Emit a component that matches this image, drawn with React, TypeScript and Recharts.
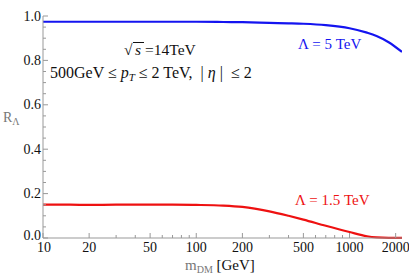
import React from 'react';
import { LineChart, Line, XAxis, YAxis } from 'recharts';

const masses = [10, 15, 20, 30, 50, 70, 100, 150, 200, 300, 400, 500, 700, 1000, 1300, 1500, 1800, 2200];
const rLambda5 = [0.974, 0.974, 0.974, 0.974, 0.974, 0.974, 0.974, 0.973, 0.972, 0.969, 0.967, 0.965, 0.959, 0.945, 0.925, 0.91, 0.882, 0.838];
const rLambda15 = [0.15, 0.15, 0.149, 0.15, 0.15, 0.15, 0.149, 0.146, 0.14, 0.12, 0.1, 0.083, 0.055, 0.027, 0.008, 0.003, 0.001, 0.001];

const xMajor = [10, 20, 50, 100, 200, 500, 1000, 2000];
const xMinor = [30, 40, 60, 70, 80, 90, 300, 400, 600, 700, 800, 900];
const yMajor = [0, 0.2, 0.4, 0.6, 0.8, 1.0];
const yMinor = [0.05, 0.1, 0.15, 0.25, 0.3, 0.35, 0.45, 0.5, 0.55, 0.65, 0.7, 0.75, 0.85, 0.9, 0.95];

const data = masses.map((m, i) => ({ m, a: rLambda5[i], b: rLambda15[i] }));

const FONT = "Liberation Serif, Times New Roman, serif";
const FRAME = '#999';
const W = 409;
const H = 276;
const M = { top: 16, right: 7, bottom: 0, left: 0 };
const XH = 38;
const YW = 43;
const PLOT_TOP = M.top;
const PLOT_BOTTOM = H - M.bottom - XH;
const PLOT_LEFT = M.left + YW;
const PLOT_RIGHT = W - M.right;

const makeXTick = (side: 'bottom' | 'top') => (props: any) => {
  const { x, payload } = props;
  const v = payload.value;
  const major = xMajor.includes(v);
  const len = major ? 5 : 3;
  const y0 = side === 'bottom' ? PLOT_BOTTOM : PLOT_TOP;
  const dir = side === 'bottom' ? -1 : 1;
  return (
    <g>
      <line x1={x} x2={x} y1={y0} y2={y0 + dir * len} stroke={FRAME} strokeWidth={1} />
      {side === 'bottom' && major && (
        <text x={v === 10 ? x + 1 : x} y={y0 + 14} textAnchor="middle" fontFamily={FONT} fontSize={14} style={{ fontFamily: FONT, fontSize: 14 }} fill="#111">
          {v}
        </text>
      )}
    </g>
  );
};

const makeYTick = (side: 'left' | 'right') => (props: any) => {
  const { y, payload } = props;
  const v = payload.value;
  const major = yMajor.some((t) => Math.abs(t - v) < 1e-9);
  const len = major ? 5 : 3;
  const x0 = side === 'left' ? PLOT_LEFT : PLOT_RIGHT;
  const dir = side === 'left' ? 1 : -1;
  return (
    <g>
      <line x1={x0} x2={x0 + dir * len} y1={y} y2={y} stroke={FRAME} strokeWidth={1} />
      {side === 'left' && major && (
        <text x={x0 - 2} y={v === 0 ? y + 2 : y + 4.5} textAnchor="end" fontFamily={FONT} fontSize={14} style={{ fontFamily: FONT, fontSize: 14 }} fill="#111">
          {v.toFixed(1)}
        </text>
      )}
    </g>
  );
};

export default function App() {
  return (
    <div style={{ position: 'absolute', left: 0, top: 0, width: W, height: H, background: '#fff', fontFamily: FONT }}>
      <LineChart width={W} height={H} data={data} margin={M} style={{ fontFamily: FONT }}>
        <XAxis
          xAxisId="b"
          dataKey="m"
          type="number"
          scale="log"
          domain={[10, 2200]}
          ticks={[...xMajor, ...xMinor]}
          allowDataOverflow
          height={XH}
          tick={makeXTick('bottom')}
          tickLine={false}
          axisLine={{ stroke: FRAME }}
          interval={0}
        />
        <XAxis
          xAxisId="t"
          orientation="top"
          dataKey="m"
          type="number"
          scale="log"
          domain={[10, 2200]}
          ticks={[...xMajor, ...xMinor]}
          allowDataOverflow
          height={0}
          tick={makeXTick('top')}
          tickLine={false}
          axisLine={{ stroke: FRAME }}
          interval={0}
        />
        <YAxis
          yAxisId="l"
          type="number"
          domain={[0, 1]}
          ticks={[...yMajor, ...yMinor]}
          width={YW}
          tick={makeYTick('left')}
          tickLine={false}
          axisLine={{ stroke: FRAME }}
          interval={0}
        />
        <YAxis
          yAxisId="r"
          orientation="right"
          type="number"
          domain={[0, 1]}
          ticks={[...yMajor, ...yMinor]}
          width={0}
          tick={makeYTick('right')}
          tickLine={false}
          axisLine={{ stroke: FRAME }}
          interval={0}
        />
        <Line xAxisId="b" yAxisId="l" type="monotone" dataKey="a" stroke="#1414f0" strokeWidth={2.2} dot={false} isAnimationActive={false} />
        <Line xAxisId="b" yAxisId="l" type="monotone" dataKey="b" stroke="#ee1111" strokeWidth={2.2} dot={false} isAnimationActive={false} />
      </LineChart>
      <svg width={W} height={H} style={{ position: 'absolute', left: 0, top: 0, pointerEvents: 'none', fontFamily: FONT }}>
        <g style={{ fontFamily: FONT, fontSize: 15.5 }} fill="#111">
          <text x={124} y={55}>√</text>
          <line x1={133} x2={144} y1={42.5} y2={42.5} stroke="#111" strokeWidth={1} />
          <text x={135} y={55} fontStyle="italic">s</text>
          <text x={145} y={55}> =14TeV</text>
          <text x={50} y={78} style={{ fontFamily: FONT, fontSize: 16, whiteSpace: 'pre' }}>
            <tspan>500GeV ≤ </tspan>
            <tspan fontStyle="italic">p</tspan>
            <tspan fontStyle="italic" fontSize={11} dy={3}>T</tspan>
            <tspan dy={-3}>{' ≤ 2 TeV,  | '}</tspan>
            <tspan fontStyle="italic">η</tspan>
            <tspan>{' |  ≤ 2'}</tspan>
          </text>
        </g>
        <text x={298} y={49} style={{ fontFamily: FONT, fontSize: 15 }} fill="#1414f0">Λ = 5 TeV</text>
        <text x={295} y={205} style={{ fontFamily: FONT, fontSize: 15 }} fill="#ee1111">Λ = 1.5 TeV</text>
        <text x={3} y={122} style={{ fontFamily: FONT, fontSize: 14 }} fill="#777">
          R<tspan fontSize={10} dy={3}>Λ</tspan>
        </text>
        <text x={185} y={270} style={{ fontFamily: FONT, fontSize: 15, whiteSpace: 'pre' }}>
          <tspan fill="#777">m</tspan>
          <tspan fill="#777" fontSize={10} dy={3}>DM</tspan>
          <tspan fill="#111" dy={-3}>{' [GeV]'}</tspan>
        </text>
      </svg>
    </div>
  );
}
